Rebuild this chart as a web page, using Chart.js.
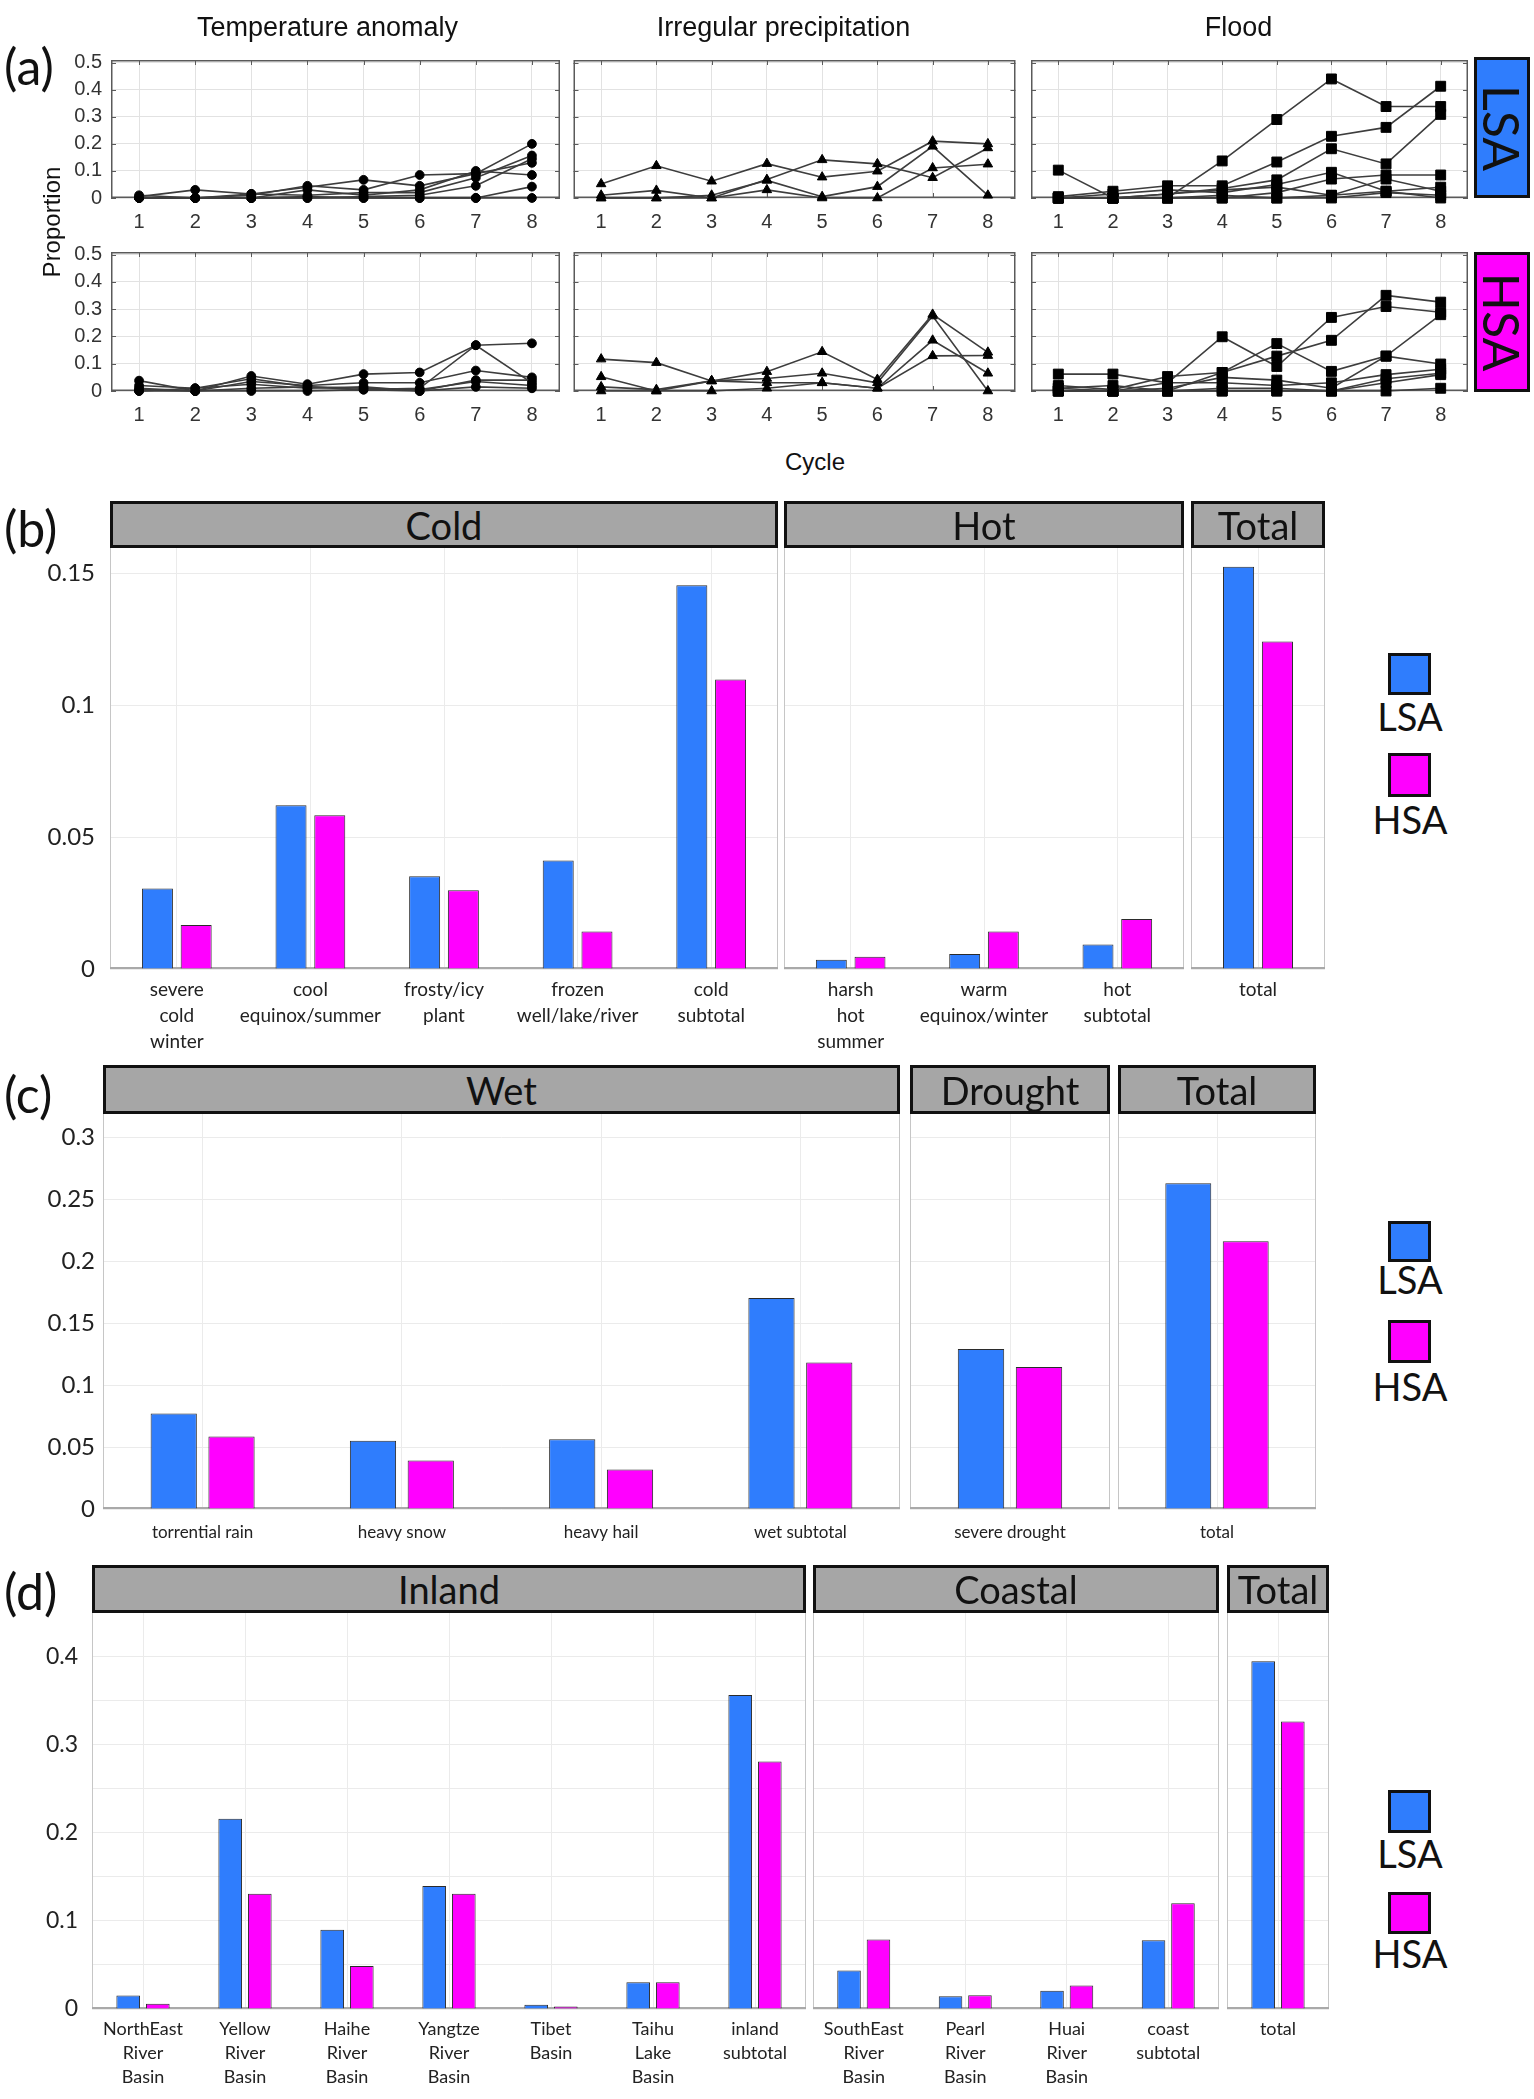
<!DOCTYPE html>
<html>
<head>
<meta charset="utf-8">
<script src="https://cdn.jsdelivr.net/npm/chart.js@4.4.0/dist/chart.umd.min.js"></script>
<style>
body { margin: 0; background: #fff; width: 1534px; height: 2099px; position: relative; overflow: hidden; }
canvas { position: absolute; }
.txt { position: absolute; line-height: 1; white-space: nowrap; color: #111; }
.hdr { position: absolute; box-sizing: border-box; background: #a6a6a6; border: 3px solid #111;
       display: flex; align-items: center; justify-content: center; font-family: Lato, sans-serif; font-size: 38px; color: #111; }
.sw { position: absolute; box-sizing: border-box; border: 3px solid #111; }
.side { position: absolute; box-sizing: border-box; border: 3px solid #111; display: flex; align-items: center; justify-content: center; }
.side span { display: block; transform: rotate(90deg); font-family: Lato, sans-serif; font-size: 50px; color: #111; line-height: 1; }
</style>
</head>
<body>
<script>
// ---- panel (a) data: proportion per cycle, one line per item ----
const cycles = ['1', '2', '3', '4', '5', '6', '7', '8'];
const panelATitles = ['Temperature anomaly', 'Irregular precipitation', 'Flood'];
const ticksA = [0, 0.1, 0.2, 0.3, 0.4, 0.5];

const tempLSA = [
	[0.005, 0.03, 0.015, 0.04, 0.067, 0.045, 0.09, 0.2],
	[0.0, 0.0, 0.01, 0.045, 0.03, 0.085, 0.09, 0.13],
	[0.01, 0.0, 0.0, 0.03, 0.01, 0.03, 0.1, 0.085],
	[0.0, 0.0, 0.015, 0.01, 0.02, 0.02, 0.075, 0.157],
	[0.0, 0.0, 0.0, 0.0, 0.005, 0.01, 0.045, 0.145],
	[0.0, 0.0, 0.0, 0.005, 0.0, 0.0, 0.0, 0.042],
	[0.0, 0.0, 0.0, 0.0, 0.0, 0.0, 0.0, 0.0]
];
const tempHSA = [
	[0.038, 0.0, 0.055, 0.025, 0.062, 0.068, 0.168, 0.175],
	[0.02, 0.01, 0.045, 0.015, 0.005, 0.01, 0.168, 0.03],
	[0.01, 0.0, 0.035, 0.02, 0.03, 0.03, 0.075, 0.05],
	[0.0, 0.01, 0.025, 0.01, 0.015, 0.0, 0.04, 0.04],
	[0.0, 0.0, 0.01, 0.015, 0.01, 0.005, 0.035, 0.02],
	[0.005, 0.0, 0.0, 0.0, 0.005, 0.0, 0.015, 0.01]
];
const precipLSA = [
	[0.052, 0.119, 0.062, 0.127, 0.077, 0.099, 0.21, 0.2],
	[0.01, 0.028, 0.0, 0.068, 0.141, 0.126, 0.075, 0.185],
	[0.0, 0.0, 0.01, 0.065, 0.005, 0.042, 0.191, 0.01],
	[0.0, 0.0, 0.0, 0.03, 0.0, 0.0, 0.111, 0.125]
];
const precipHSA = [
	[0.117, 0.104, 0.037, 0.071, 0.144, 0.042, 0.281, 0.142],
	[0.052, 0.0, 0.037, 0.046, 0.065, 0.03, 0.275, 0.0],
	[0.015, 0.005, 0.037, 0.03, 0.03, 0.01, 0.186, 0.065],
	[0.0, 0.0, 0.0, 0.01, 0.03, 0.01, 0.129, 0.13]
];
const floodLSA = [
	[0.103, 0.0, 0.0, 0.137, 0.29, 0.44, 0.338, 0.338],
	[0.005, 0.025, 0.045, 0.045, 0.133, 0.228, 0.261, 0.413],
	[0.0, 0.0, 0.015, 0.035, 0.067, 0.182, 0.126, 0.309],
	[0.0, 0.015, 0.03, 0.02, 0.05, 0.095, 0.025, 0.0],
	[0.0, 0.0, 0.0, 0.0, 0.02, 0.07, 0.085, 0.085],
	[0.0, 0.0, 0.0, 0.01, 0.0, 0.01, 0.025, 0.04],
	[0.0, 0.0, 0.015, 0.03, 0.04, 0.01, 0.07, 0.025],
	[0.0, 0.0, 0.0, 0.0, 0.0, 0.0, 0.02, 0.01]
];
const floodHSA = [
	[0.062, 0.062, 0.03, 0.199, 0.09, 0.27, 0.31, 0.289],
	[0.02, 0.005, 0.053, 0.068, 0.174, 0.072, 0.128, 0.28],
	[0.01, 0.02, 0.0, 0.068, 0.128, 0.186, 0.351, 0.326],
	[0.0, 0.0, 0.01, 0.05, 0.04, 0.01, 0.128, 0.099],
	[0.0, 0.0, 0.03, 0.03, 0.02, 0.03, 0.06, 0.08],
	[0.01, 0.0, 0.0, 0.01, 0.01, 0.0, 0.045, 0.065],
	[0.0, 0.0, 0.0, 0.0, 0.0, 0.0, 0.03, 0.06],
	[0.0, 0.0, 0.0, 0.0, 0.0, 0.0, 0.0, 0.01]
];

// ---- panel (b) ----
const coldCats = [['severe', 'cold', 'winter'], ['cool', 'equinox/summer'], ['frosty/icy', 'plant'], ['frozen', 'well/lake/river'], ['cold', 'subtotal']];
const coldLSA = [0.0305, 0.0621, 0.0352, 0.0411, 0.1455];
const coldHSA = [0.0167, 0.0583, 0.0299, 0.0142, 0.1098];
const hotCats = [['harsh', 'hot', 'summer'], ['warm', 'equinox/winter'], ['hot', 'subtotal']];
const hotLSA = [0.0035, 0.0057, 0.0093];
const hotHSA = [0.0046, 0.0142, 0.0190];
const tempTotalLSA = [0.1525];
const tempTotalHSA = [0.1242];
const ticksB = [0, 0.05, 0.1, 0.15];

// ---- panel (c) ----
const wetCats = ['torrential rain', 'heavy snow', 'heavy hail', 'wet subtotal'];
const wetLSA = [0.0771, 0.0551, 0.0564, 0.1705];
const wetHSA = [0.0585, 0.0392, 0.0320, 0.1184];
const droughtCats = ['severe drought'];
const droughtLSA = [0.1292];
const droughtHSA = [0.1147];
const precipTotalLSA = [0.2632];
const precipTotalHSA = [0.2164];
const ticksC = [0, 0.05, 0.1, 0.15, 0.2, 0.25, 0.3];

// ---- panel (d) ----
const inlandCats = [['NorthEast', 'River', 'Basin'], ['Yellow', 'River', 'Basin'], ['Haihe', 'River', 'Basin'], ['Yangtze', 'River', 'Basin'], ['Tibet', 'Basin'], ['Taihu', 'Lake', 'Basin'], ['inland', 'subtotal']];
const inlandLSA = [0.0152, 0.2162, 0.0899, 0.1396, 0.0047, 0.0305, 0.3566];
const inlandHSA = [0.0059, 0.1310, 0.0489, 0.1310, 0.0027, 0.0305, 0.2811];
const coastCats = [['SouthEast', 'River', 'Basin'], ['Pearl', 'River', 'Basin'], ['Huai', 'River', 'Basin'], ['coast', 'subtotal']];
const coastLSA = [0.0438, 0.0145, 0.0207, 0.0782];
const coastHSA = [0.0790, 0.0156, 0.0266, 0.1200];
const floodTotalLSA = [0.395];
const floodTotalHSA = [0.3265];
const ticksD = [0, 0.05, 0.1, 0.15, 0.2, 0.25, 0.3, 0.35, 0.4];

const BLUE = '#2f7dfd';
const MAGENTA = '#ff00ff';

// box around plot area, optional inward ticks (matlab style)
const framePlugin = {
	id: 'frame',
	beforeDatasetsDraw(chart, args, o) {
		const ctx = chart.ctx, a = chart.chartArea;
		ctx.save();
		ctx.strokeStyle = o.color;
		ctx.lineWidth = o.width;
		ctx.strokeRect(a.left + o.width / 2, a.top + o.width / 2, a.width - o.width, a.height - o.width);
		if (o.base) {
			ctx.strokeStyle = o.base;
			ctx.lineWidth = 2;
			ctx.beginPath();
			ctx.moveTo(a.left, a.bottom - 1);
			ctx.lineTo(a.right, a.bottom - 1);
			ctx.stroke();
		}
		if (o.ticks) {
			const sx = chart.scales.x, sy = chart.scales.y, L = o.ticks;
			ctx.strokeStyle = o.color;
			ctx.lineWidth = 1;
			ctx.beginPath();
			sx.ticks.forEach((t, i) => {
				const px = Math.round(sx.getPixelForTick(i)) + 0.5;
				ctx.moveTo(px, a.top); ctx.lineTo(px, a.top + L);
				ctx.moveTo(px, a.bottom); ctx.lineTo(px, a.bottom - L);
			});
			sy.ticks.forEach((t, i) => {
				const py = Math.round(sy.getPixelForTick(i)) + 0.5;
				ctx.moveTo(a.left, py); ctx.lineTo(a.left + L, py);
				ctx.moveTo(a.right, py); ctx.lineTo(a.right - L, py);
			});
			ctx.stroke();
		}
		ctx.restore();
	}
};

// canvas positioned so the chart area lands on box [left, top, right, bottom]
function place(box, m) {
	const c = document.createElement('canvas');
	const w = box[2] - box[0] + m.pl + m.yw + m.pr;
	const h = box[3] - box[1] + m.pt + m.xh;
	c.width = w; c.height = h;
	c.style.left = (box[0] - m.pl - m.yw) + 'px';
	c.style.top = (box[1] - m.pt) + 'px';
	c.style.width = w + 'px';
	c.style.height = h + 'px';
	document.body.appendChild(c);
	return c;
}

function addText(str, x, y, css) {
	const d = document.createElement('div');
	d.className = 'txt';
	d.textContent = str;
	d.style.left = x + 'px';
	d.style.top = y + 'px';
	Object.assign(d.style, css || {});
	document.body.appendChild(d);
	return d;
}

function addHeader(str, x0, y0, x1, y1) {
	const d = document.createElement('div');
	d.className = 'hdr';
	d.textContent = str;
	Object.assign(d.style, { left: x0 + 'px', top: y0 + 'px', width: (x1 - x0) + 'px', height: (y1 - y0) + 'px' });
	document.body.appendChild(d);
}

function addLegend(y) {
	// y = [blueTop, blueBottom, lsaCenter, magTop, magBottom, hsaCenter]
	const items = [[BLUE, y[0], y[1], 'LSA', y[2]], [MAGENTA, y[3], y[4], 'HSA', y[5]]];
	items.forEach(it => {
		const s = document.createElement('div');
		s.className = 'sw';
		Object.assign(s.style, { left: '1388px', top: it[1] + 'px', width: '43px', height: (it[2] - it[1]) + 'px', background: it[0] });
		document.body.appendChild(s);
		addText(it[3], 1360, it[4] - 20, { width: '100px', textAlign: 'center', fontFamily: 'Lato, sans-serif', fontSize: '38px' });
	});
}

// ---- panel (a) line charts ----
function lineChart(box, series, shape, radius, first) {
	// pt is larger than the half label height + tick padding so the area top stays put
	const m = { pl: first ? 5 : 0, yw: first ? 45 : 0, pt: 26, pr: 6, xh: 36 };
	const cv = place(box, m);
	return new Chart(cv, {
		type: 'line',
		data: {
			labels: cycles,
			datasets: series.map(s => ({
				data: s,
				borderColor: '#3d3d3d',
				borderWidth: 1.6,
				pointStyle: shape,
				pointRadius: radius,
				pointBackgroundColor: '#000',
				pointBorderColor: '#000',
				pointBorderWidth: 1,
				tension: 0,
				clip: false
			}))
		},
		options: {
			responsive: false,
			animation: false,
			devicePixelRatio: 1,
			layout: { padding: { left: m.pl, top: m.pt, right: m.pr, bottom: 0 } },
			plugins: { legend: { display: false }, tooltip: { enabled: false }, frame: { color: '#5a5a5a', width: 1.5, ticks: 5 } },
			scales: {
				x: {
					offset: true,
					grid: { offset: false, color: '#e2e2e2', drawTicks: false },
					border: { display: false },
					ticks: { padding: 12, color: '#333', font: { family: 'Liberation Sans', size: 20 }, maxRotation: 0 },
					afterFit: s => { s.height = m.xh; }
				},
				y: {
					min: 0, max: 0.51,
					grid: { color: '#e2e2e2', drawTicks: false },
					border: { display: false },
					ticks: { display: first, padding: 9, color: '#333', font: { family: 'Liberation Sans', size: 20 },
						callback: v => String(+v.toFixed(2)) },
					afterBuildTicks: s => { s.ticks = ticksA.map(v => ({ value: v })); },
					afterFit: s => { s.width = m.yw; }
				}
			}
		},
		plugins: [framePlugin]
	});
}

const colsA = [[111, 560], [567, 1016], [1023, 1470]];
const rowsA = [[60, 198], [252, 391]];
const seriesA = [[tempLSA, precipLSA, floodLSA], [tempHSA, precipHSA, floodHSA]];
const shapesA = [['circle', 4.4], ['triangle', 5.5], ['rect', 7]];

rowsA.forEach((r, ri) => {
	colsA.forEach((c, ci) => {
		lineChart([c[0], r[0], c[1], r[1]], seriesA[ri][ci], shapesA[ci][0], shapesA[ci][1], ci === 0);
	});
});

panelATitles.forEach((t, i) => {
	const cx = (colsA[i][0] + colsA[i][1]) / 2 - 8;
	addText(t, cx - 200, 14, { width: '400px', textAlign: 'center', fontFamily: 'Liberation Sans, sans-serif', fontSize: '27px' });
});
addText('Proportion', 52 - 100, 222 - 12, { width: '200px', textAlign: 'center', fontFamily: 'Liberation Sans, sans-serif', fontSize: '24px', transform: 'rotate(-90deg)' });
addText('Cycle', 815 - 60, 462 - 12, { width: '120px', textAlign: 'center', fontFamily: 'Liberation Sans, sans-serif', fontSize: '24px' });

[['LSA', BLUE, 57, 198], ['HSA', MAGENTA, 252, 392]].forEach(s => {
	const d = document.createElement('div');
	d.className = 'side';
	Object.assign(d.style, { left: '1474px', top: s[2] + 'px', width: '56px', height: (s[3] - s[2]) + 'px', background: s[1] });
	const sp = document.createElement('span');
	sp.textContent = s[0];
	d.appendChild(sp);
	document.body.appendChild(d);
});

// ---- bar charts (b), (c), (d) ----
function barChart(box, cats, lsa, hsa, cfg, first) {
	const m = { pl: 0, yw: first ? cfg.yw : 0, pt: 34, pr: 3, xh: cfg.xh };
	const cv = place(box, m);
	const ds = (label, data, color) => ({
		label: label, data: data, backgroundColor: color,
		borderColor: '#2b2b2b', borderWidth: 1,
		barPercentage: 0.8, categoryPercentage: 0.58
	});
	return new Chart(cv, {
		type: 'bar',
		data: { labels: cats, datasets: [ds('LSA', lsa, BLUE), ds('HSA', hsa, MAGENTA)] },
		options: {
			responsive: false,
			animation: false,
			devicePixelRatio: 1,
			layout: { padding: { left: m.pl, top: m.pt, right: m.pr, bottom: 0 } },
			plugins: { legend: { display: false }, tooltip: { enabled: false }, frame: { color: '#c6c6c6', width: 1, base: '#a9a9a9' } },
			scales: {
				x: {
					grid: { offset: false, color: '#ebebeb', drawTicks: false },
					border: { display: false },
					ticks: { padding: cfg.pad, color: '#222', maxRotation: 0, autoSkip: false,
						font: { family: 'Lato', size: cfg.fs, lineHeight: cfg.lh } },
					afterFit: s => { s.height = m.xh; }
				},
				y: {
					min: 0, max: cfg.max,
					grid: { color: '#ebebeb', drawTicks: false },
					border: { display: false },
					ticks: { display: first, padding: cfg.ypad, color: '#222',
						font: { family: 'Lato', size: cfg.yfs }, callback: cfg.fmt },
					afterBuildTicks: s => { s.ticks = cfg.ticks.map(v => ({ value: v })); },
					afterFit: s => { s.width = m.yw; }
				}
			}
		},
		plugins: [framePlugin]
	});
}

const fmt = v => String(+v.toFixed(2));
const fmtTenth = v => (Math.round(v * 100) % 10 === 0 ? String(+v.toFixed(1)) : '');

// (b)
const cfgB = { max: 0.16, ticks: ticksB, yw: 70, ypad: 15, yfs: 24, xh: 95, pad: 8, fs: 19, lh: 1.37, fmt: fmt };
barChart([110, 547, 778, 969], coldCats, coldLSA, coldHSA, cfgB, true);
barChart([784, 547, 1184, 969], hotCats, hotLSA, hotHSA, cfgB, false);
barChart([1191, 547, 1325, 969], ['total'], tempTotalLSA, tempTotalHSA, cfgB, false);
addHeader('Cold', 110, 501, 778, 548);
addHeader('Hot', 784, 501, 1184, 548);
addHeader('Total', 1191, 501, 1325, 548);
addLegend([653, 695, 717, 753, 797, 820]);

// (c)
const cfgC = { max: 0.32, ticks: ticksC, yw: 70, ypad: 8, yfs: 24, xh: 50, pad: 12, fs: 17, lh: 1.3, fmt: fmt };
barChart([103, 1113, 900, 1509], wetCats, wetLSA, wetHSA, cfgC, true);
barChart([910, 1113, 1110, 1509], droughtCats, droughtLSA, droughtHSA, cfgC, false);
barChart([1118, 1113, 1316, 1509], ['total'], precipTotalLSA, precipTotalHSA, cfgC, false);
addHeader('Wet', 103, 1065, 900, 1114);
addHeader('Drought', 910, 1065, 1110, 1114);
addHeader('Total', 1118, 1065, 1316, 1114);
addLegend([1221, 1262, 1280, 1320, 1363, 1387]);

// (d)
const cfgD = { max: 0.451, ticks: ticksD, yw: 70, ypad: 14, yfs: 23, xh: 88, pad: 8, fs: 18, lh: 1.33, fmt: fmtTenth };
barChart([92, 1612, 806, 2009], inlandCats, inlandLSA, inlandHSA, cfgD, true);
barChart([813, 1612, 1219, 2009], coastCats, coastLSA, coastHSA, cfgD, false);
barChart([1227, 1612, 1329, 2009], ['total'], floodTotalLSA, floodTotalHSA, cfgD, false);
addHeader('Inland', 92, 1565, 806, 1613);
addHeader('Coastal', 813, 1565, 1219, 1613);
addHeader('Total', 1227, 1565, 1329, 1613);
addLegend([1790, 1833, 1854, 1892, 1934, 1954]);

// panel letters
[['(a)', 41], ['(b)', 503], ['(c)', 1069], ['(d)', 1566]].forEach(p => {
	addText(p[0], 4, p[1], { fontFamily: 'Lato, sans-serif', fontSize: '50px' });
});
</script>
</body>
</html>
